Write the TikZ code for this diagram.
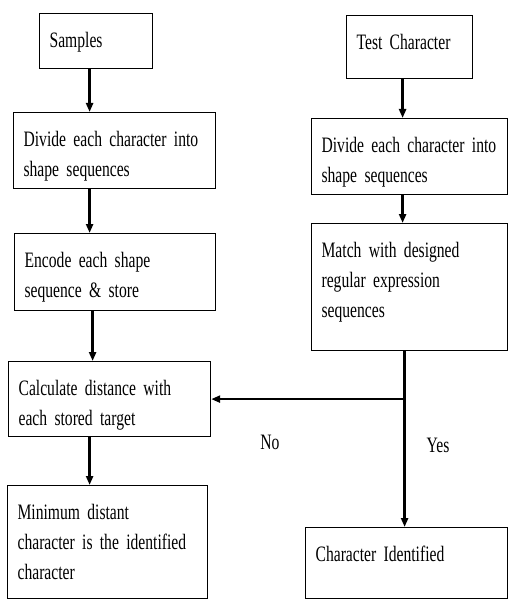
\documentclass[tikz,border=0pt]{standalone}
\usepackage{fontspec}
\setmainfont{Liberation Serif}[FakeStretch=0.71,WordSpace=0.8]
\usetikzlibrary{arrows.meta,positioning}
\tikzset{
  stepbox/.style={draw,line width=1.2bp,anchor=north west,align=left,
    inner xsep=10bp,inner ysep=0pt,text height=34bp,
    font=\fontsize{22bp}{30bp}\selectfont},
  lbl/.style={inner sep=0pt,font=\fontsize{22bp}{30bp}\selectfont},
  arr/.style={-{Triangle[length=9bp,width=7bp]},line width=2.4bp}
}

\begin{document}
\begin{tikzpicture}[x=1bp,y=-1bp]
  \useasboundingbox (0,0) rectangle (508,600);
  % left column: samples
  \node[stepbox,text width=93bp,text depth=21bp] (samples) at (39,13) {Samples};
  \node[stepbox,text width=182bp,text depth=42bp] (divA) at (13,112) {Divide each character into\\shape sequences};
  \node[stepbox,text width=181bp,text depth=43bp] (encode) at (14,233) {Encode each shape\\sequence \& store};
  \node[stepbox,text width=182bp,text depth=41bp] (calc) at (8,361) {Calculate distance with\\each stored target};
  \node[stepbox,text width=180bp,text depth=79bp] (minimum) at (7,485) {Minimum distant\\character is the identified\\character};
  % right column: test character
  \node[stepbox,text width=106bp,text depth=29bp] (test) at (346,15) {Test Character};
  \node[stepbox,text width=176bp,text depth=42bp] (divB) at (311,118) {Divide each character into\\shape sequences};
  \node[stepbox,text width=176bp,text depth=93bp] (match) at (311,223) {Match with designed\\regular expression\\sequences};
  \node[stepbox,text width=182bp,text depth=37bp] (ident) at (305,527) {Character Identified};
  \node[lbl] (no) at (270,442) {No};
  \node[lbl] (yes) at (438,445) {Yes};

  \draw[arr] ([xshift=-6.5bp]samples.south) -- ([xshift=-6.5bp]samples.south |- divA.north);
  \draw[arr] ([xshift=-25bp]divA.south) -- ([xshift=-25bp]divA.south |- encode.north);
  \draw[arr] ([xshift=-22.5bp]encode.south) -- ([xshift=-22.5bp]encode.south |- calc.north);
  \draw[arr] ([xshift=-20bp]calc.south) -- ([xshift=-20bp]calc.south |- minimum.north);
  \draw[arr] ([xshift=-7bp]test.south) -- ([xshift=-7bp]test.south |- divB.north);
  \draw[arr] ([xshift=-7bp]divB.south) -- ([xshift=-7bp]divB.south |- match.north);
  \coordinate (fork) at ([xshift=-5bp]match.south |- calc.east);
  \draw[arr] ([xshift=-5bp]match.south) -- ([xshift=-5bp]match.south |- ident.north);
  \draw[arr] (fork) -- (calc.east);
\end{tikzpicture}
\end{document}
